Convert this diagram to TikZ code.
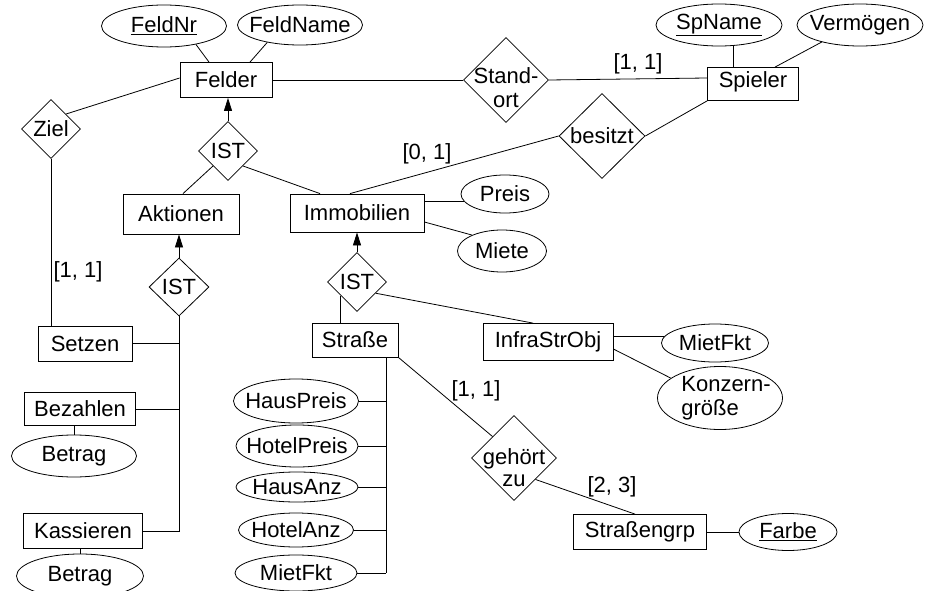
\documentclass[tikz,border=0pt]{standalone}
\usepackage{fontspec}
\setmainfont{Liberation Sans}
\usetikzlibrary{shapes.geometric,arrows.meta}
\begin{document}
\begin{tikzpicture}[x=1pt,y=-1pt,line width=0.8pt,
  font=\fontsize{22}{24}\selectfont,
  sz/.style 2 args={minimum width=#1pt,minimum height=#2pt},
  ent/.style={draw,rectangle,inner sep=0pt},
  att/.style={draw,ellipse,inner sep=0pt},
  rel/.style={draw,diamond,inner sep=0pt,aspect=1},
  card/.style={inner sep=0pt},
  isa/.style={-{Triangle[length=13pt,width=8pt]}}]
\useasboundingbox (0,0) rectangle (937,591);

% entities
\node[ent,sz={92}{35},label=center:Felder] (felder) at (226,80) {};
\node[ent,sz={91}{33},label={[yshift=2pt]center:Spieler}] (spieler) at (753,84) {};
\node[ent,sz={116}{40},label=center:Aktionen] (aktionen) at (181,214) {};
\node[ent,sz={134}{38},label=center:Immobilien] (immobilien) at (357,213) {};
\node[ent,sz={94}{35},label=center:Setzen] (setzen) at (85,344) {};
\node[ent,sz={111}{33},label=center:Bezahlen] (bezahlen) at (80,409) {};
\node[ent,sz={119}{35},label=center:Kassieren] (kassieren) at (83,531) {};
\node[ent,sz={86}{34},label=center:Straße] (strasse) at (355,340) {};
\node[ent,sz={130}{37},label=center:InfraStrObj] (infra) at (548,342) {};
\node[ent,sz={133}{35},label=center:Straßengrp] (strgrp) at (640,532) {};

% attributes
\node[att,sz={125}{42},label=center:\underline{FeldNr}] (feldnr) at (164,26) {};
\node[att,sz={125}{40},label=center:FeldName] (feldname) at (300,25) {};
\node[att,sz={126}{42},label=center:\underline{SpName}] (spname) at (719,25) {};
\node[att,sz={126}{42},label=center:Vermögen] (vermoegen) at (860,25) {};
\node[att,sz={88}{38},label=center:Preis] (preis) at (505,194) {};
\node[att,sz={89}{42},label=center:Miete] (miete) at (502,251) {};
\node[att,sz={107}{38},label=center:MietFkt] (mietfkt2) at (715,343) {};
\node[att,sz={125}{63},label={[align=left,xshift=6pt]center:{Konzern-\\größe}}] (konzern) at (720,398) {};
\node[att,sz={98}{37},label=center:\underline{Farbe}] (farbe) at (788,532) {};
\node[att,sz={125}{42},label=center:Betrag] (betrag1) at (74,456) {};
\node[att,sz={127}{44},label=center:Betrag] (betrag2) at (80,576) {};
\node[att,sz={125}{44},label=center:HausPreis] (hauspreis) at (296,401) {};
\node[att,sz={122}{42},label=center:HotelPreis] (hotelpreis) at (297,446) {};
\node[att,sz={122}{30},label=center:HausAnz] (hausanz) at (297,487) {};
\node[att,sz={115}{34},label=center:HotelAnz] (hotelanz) at (296,530) {};
\node[att,sz={122}{36},label=center:MietFkt] (mietfkt1) at (296,573) {};

% relationships
\node[rel,sz={85}{85},label={[align=center,yshift=-8pt]center:{Stand-\\ort}}] (standort) at (506,80) {};
\node[rel,sz={86}{85},label=center:besitzt] (besitzt) at (602,136) {};
\node[rel,sz={59}{59},label=center:Ziel] (ziel) at (51,129) {};
\node[rel,sz={59}{59},label=center:IST] (ist1) at (228,151) {};
\node[rel,sz={60}{58},label=center:IST] (ist2) at (179,287) {};
\node[rel,sz={59}{59},label=center:IST] (ist3) at (357,282) {};
\node[rel,sz={85}{85},label={[align=center,yshift=-10pt]center:{gehört\\[-2pt]zu}}] (gehort) at (514,458) {};

% cardinalities
\node[card] (c1) at (638,64) {[1, 1]};
\node[card] (c2) at (427,154) {[0, 1]};
\node[card] (c3) at (78,272) {[1, 1]};
\node[card] (c4) at (476,391) {[1, 1]};
\node[card] (c5) at (612,487) {[2, 3]};

% connectors
\draw (feldnr.-30) -- ([xshift=-17pt]felder.north);
\draw (feldname.-152) -- ([xshift=24pt]felder.north);
\draw (felder.east) -- (standort.west);
\draw (standort.east) -- ([yshift=6pt]spieler.west);
\draw (besitzt.east) -- (spieler.south west);
\draw (besitzt.west) -- ([xshift=-7pt]immobilien.north);
\draw (spname.-55) -- (spname.-55 |- spieler.north);
\draw (vermoegen.-156) -- ([xshift=22pt]spieler.north);
\draw (ziel.north east) -- ([yshift=2pt]felder.west);
\draw (ziel.south) -- (ziel.south |- setzen.north);
\draw[isa] (ist1.north) -- (ist1.north |- felder.south);
\draw (ist1.south west) -- ([xshift=2pt]aktionen.north);
\draw (ist1.south east) -- ([xshift=-37pt]immobilien.north);
\draw[isa] (ist2.north) -- (ist2.north |- aktionen.south);
\coordinate (trunk) at (ist2.south |- kassieren.east);
\draw (ist2.south) -- (trunk) -- (kassieren.east);
\draw ([yshift=1pt]setzen.east) -- ([yshift=1pt]setzen.east -| ist2.south);
\draw (bezahlen.east) -- (bezahlen.east -| ist2.south);
\draw (betrag1.north) -- (betrag1.north |- bezahlen.south);
\draw (betrag2.north) -- (betrag2.north |- kassieren.south);
\draw[isa] (ist3.north) -- (ist3.north |- immobilien.south);
\draw (ist3.-140) -- (ist3.-140 |- strasse.north);
\draw (ist3.-31) -- ([xshift=-15pt]infra.north);
\draw (preis.-169 -| immobilien.east) -- (preis.-169);
\draw ([yshift=-9pt]immobilien.east) -- (miete.152);
\draw (strasse.south east) -- (gehort.north west);
\draw (gehort.south east) -- ([xshift=-5pt]strgrp.north);
\draw (strgrp.east) -- (farbe.west);
\draw (mietfkt2.173 -| infra.east) -- (mietfkt2.173);
\draw ([yshift=-7pt]infra.east) -- (konzern.158);
\coordinate (sv) at ([xshift=31pt]strasse.south);
\draw (sv) -- (sv |- mietfkt1.east);
\foreach \n in {hauspreis,hotelpreis,hausanz,hotelanz,mietfkt1}
  \draw (\n.east) -- (\n.east -| sv);
\end{tikzpicture}
\end{document}
